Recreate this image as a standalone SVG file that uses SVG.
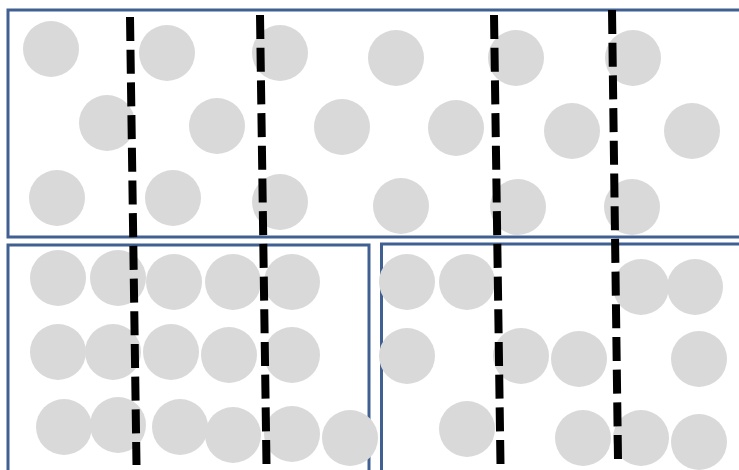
<svg xmlns="http://www.w3.org/2000/svg" width="739" height="470" viewBox="0 0 739 470">
<style>
.box{fill:#ffffff;stroke:#3f6090;stroke-width:3}
.dot{fill:#d9d9d9}
.cut{fill:none;stroke:#000000;stroke-width:8;stroke-dasharray:24 8.7}
</style>
<rect width="739" height="470" fill="#ffffff"/>
<g id="region-top">
<rect class="box" x="8" y="10" width="740" height="227"/>
<g class="dots">
<circle class="dot" cx="51" cy="49" r="28"/>
<circle class="dot" cx="167" cy="53" r="28"/>
<circle class="dot" cx="280" cy="53" r="28"/>
<circle class="dot" cx="396" cy="58" r="28"/>
<circle class="dot" cx="516" cy="58" r="28"/>
<circle class="dot" cx="633" cy="58" r="28"/>
<circle class="dot" cx="107" cy="123" r="28"/>
<circle class="dot" cx="217" cy="126" r="28"/>
<circle class="dot" cx="342" cy="127" r="28"/>
<circle class="dot" cx="456" cy="128" r="28"/>
<circle class="dot" cx="572" cy="131" r="28"/>
<circle class="dot" cx="692" cy="131" r="28"/>
<circle class="dot" cx="57" cy="198" r="28"/>
<circle class="dot" cx="173" cy="198" r="28"/>
<circle class="dot" cx="280" cy="202" r="28"/>
<circle class="dot" cx="401" cy="206" r="28"/>
<circle class="dot" cx="518" cy="207" r="28"/>
<circle class="dot" cx="632" cy="207" r="28"/>
</g>
</g>
<g id="region-bottom-left">
<rect class="box" x="8" y="245" width="361" height="240"/>
<circle class="dot" cx="58" cy="278" r="28"/>
<circle class="dot" cx="118" cy="278" r="28"/>
<circle class="dot" cx="174" cy="282" r="28"/>
<circle class="dot" cx="233" cy="282" r="28"/>
<circle class="dot" cx="292" cy="282" r="28"/>
<circle class="dot" cx="58" cy="352" r="28"/>
<circle class="dot" cx="113" cy="352" r="28"/>
<circle class="dot" cx="171" cy="352" r="28"/>
<circle class="dot" cx="229" cy="355" r="28"/>
<circle class="dot" cx="292" cy="355" r="28"/>
<circle class="dot" cx="64" cy="427" r="28"/>
<circle class="dot" cx="118" cy="425" r="28"/>
<circle class="dot" cx="180" cy="427" r="28"/>
<circle class="dot" cx="233" cy="435" r="28"/>
<circle class="dot" cx="292" cy="434" r="28"/>
<circle class="dot" cx="350" cy="438" r="28"/>
</g>
<g id="region-bottom-right">
<rect class="box" x="381.5" y="244" width="370" height="240"/>
<circle class="dot" cx="407" cy="282" r="28"/>
<circle class="dot" cx="467" cy="282" r="28"/>
<circle class="dot" cx="641" cy="287" r="28"/>
<circle class="dot" cx="695" cy="287" r="28"/>
<circle class="dot" cx="407" cy="356" r="28"/>
<circle class="dot" cx="521" cy="356" r="28"/>
<circle class="dot" cx="579" cy="359" r="28"/>
<circle class="dot" cx="699" cy="359" r="28"/>
<circle class="dot" cx="467" cy="429" r="28"/>
<circle class="dot" cx="583" cy="438" r="28"/>
<circle class="dot" cx="641" cy="438" r="28"/>
<circle class="dot" cx="699" cy="442" r="28"/>
</g>
<g id="connectors">
<line class="cut" x1="130" y1="17" x2="136.5" y2="465"/>
<line class="cut" x1="260" y1="15" x2="266.5" y2="465"/>
<line class="cut" x1="494" y1="15" x2="500.5" y2="465"/>
<line class="cut" x1="612" y1="10" x2="618" y2="459"/>
</g>
</svg>
